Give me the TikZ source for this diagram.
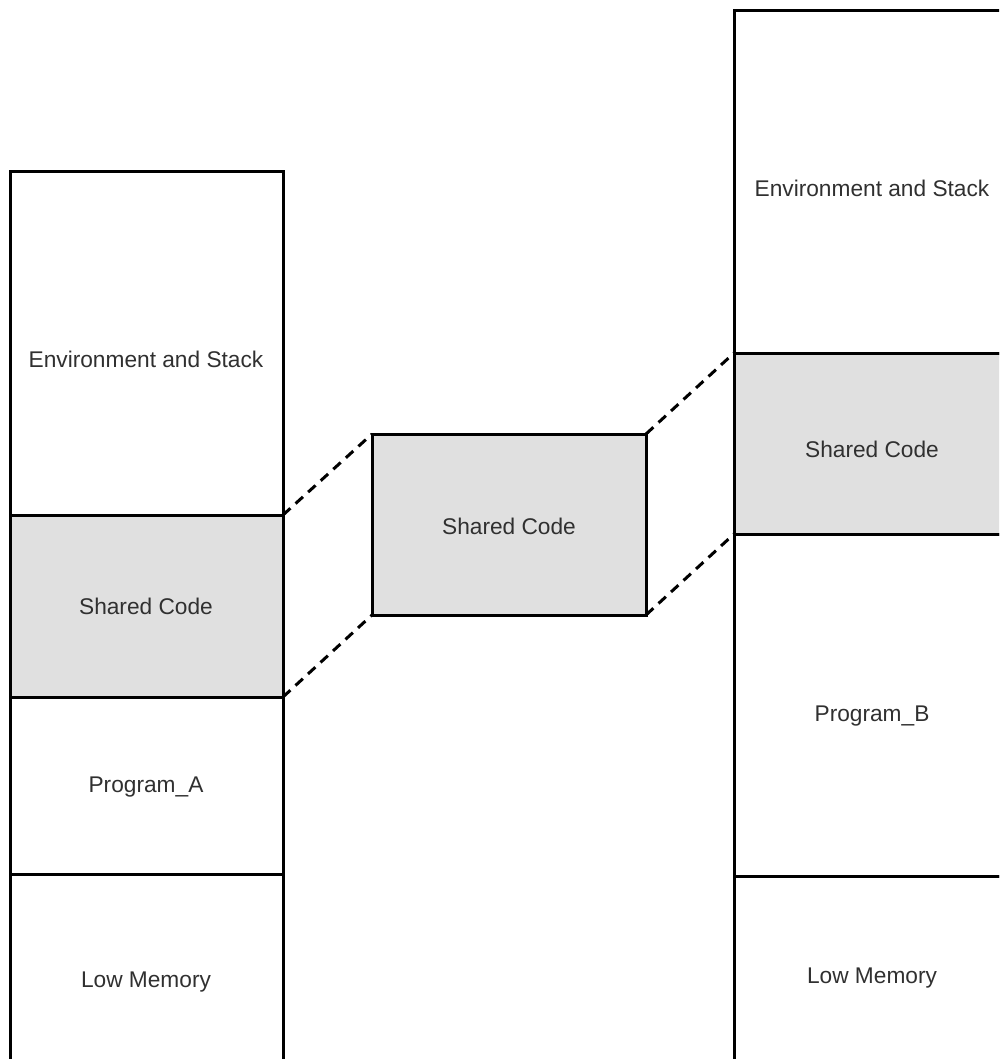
\documentclass[tikz,border=0pt]{standalone}
\usepackage{fontspec}
\setmainfont{Liberation Sans}
\definecolor{sharedgray}{HTML}{E0E0E0}
\definecolor{labelgray}{HTML}{303030}
\begin{document}
\begin{tikzpicture}[x=1pt,y=-1pt,
  seg/.style={draw=black, line width=3pt, inner sep=0pt, outer sep=0pt,
    anchor=north west, minimum width=#1},
  segbox/.style={seg=273pt},
  shared/.style={fill=sharedgray},
  lbl/.style={anchor=base, text=labelgray, inner sep=0pt,
    font=\fontsize{22.7}{27}\selectfont},
  link/.style={draw=black, line width=3pt, dash pattern=on 10pt off 7pt}]
\useasboundingbox (0,0) rectangle (999,1059);
\clip (0,0) rectangle (999,1059);

% memory map of Program_A
\node[segbox, minimum height=343pt] (aenv) at (10,172) {};
\node[segbox, shared, minimum height=182pt] (ashared) at (10,515) {};
\node[segbox, minimum height=177pt] (aprog) at (10,697) {};
\node[segbox, minimum height=210pt] (alow) at (10,874) {};

% memory map of Program_B
\node[seg=278pt, minimum height=342pt] (benv) at (734,11) {};
\node[seg=278pt, shared, minimum height=181pt] (bshared) at (734,353) {};
\node[seg=278pt, minimum height=342pt] (bprog) at (734,534) {};
\node[seg=278pt, minimum height=210pt] (blow) at (734,876) {};

% the shared code segment itself
\node[seg=274pt, shared, minimum height=181pt] (mid) at (372,434) {};

% labels
\node[lbl] (taenv) at (146,367) {Environment and Stack};
\node[lbl] (tashared) at (146,614) {Shared Code};
\node[lbl] (taprog) at (146,792) {Program\_A};
\node[lbl] (talow) at (146,987) {Low Memory};
\node[lbl] (tmid) at (509,534) {Shared Code};
\node[lbl] (tbenv) at (872,197) {Environment and Stack};
\node[lbl] (tbshared) at (872,457) {Shared Code};
\node[lbl] (tbprog) at (872,721) {Program\_B};
\node[lbl] (tblow) at (872,983) {Low Memory};

% mapping of the shared segment into both address spaces
\draw[link] (ashared.north east) -- (mid.north west);
\draw[link] (ashared.south east) -- (mid.south west);
\draw[link] (mid.north east) -- (bshared.north west);
\draw[link] (mid.south east) -- (bshared.south west);
\end{tikzpicture}
\end{document}
